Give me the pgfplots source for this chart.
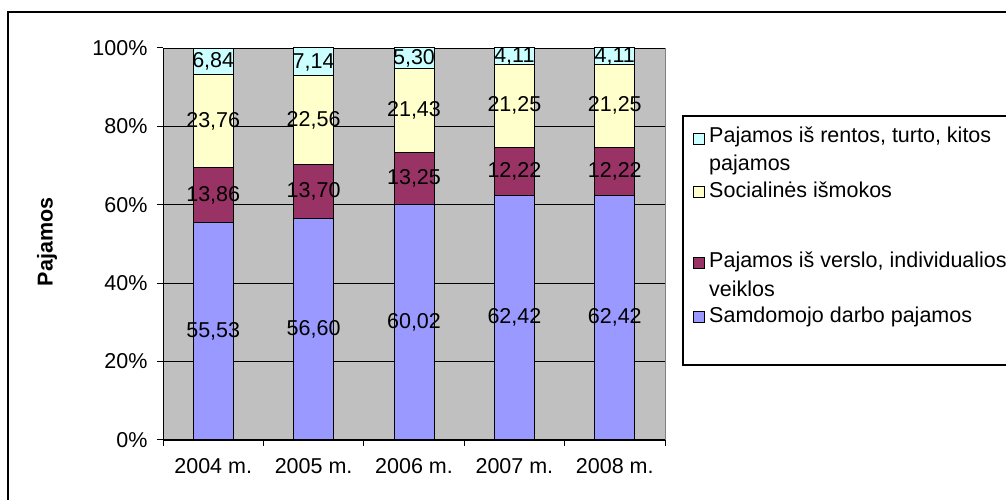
\documentclass[border=0pt]{standalone}
\usepackage{fontspec}
\setmainfont{Liberation Sans}
\usepackage{pgfplots}
\pgfplotsset{compat=1.18}
\usepackage{pgfplotstable}

\definecolor{cWage}{HTML}{9999FF}
\definecolor{cBiz}{HTML}{993366}
\definecolor{cSoc}{HTML}{FFFFCC}
\definecolor{cRent}{HTML}{CCFFFF}
\definecolor{cPlot}{HTML}{C0C0C0}

% income shares by year, %
\pgfplotstableread{
x wage biz soc rent
0 55.53 13.86 23.76 6.84
1 56.60 13.70 22.56 7.14
2 60.02 13.25 21.43 5.30
3 62.42 12.22 21.25 4.11
4 62.42 12.22 21.25 4.11
}\shares

% data labels, set at the middle of each segment
\pgfplotstableread{
x y lab
0 27.77 55,53
0 62.46 13,86
0 81.27 23,76
0 96.57 6,84
1 28.30 56,60
1 63.45 13,70
1 81.58 22,56
1 96.43 7,14
2 30.01 60,02
2 66.65 13,25
2 83.99 21,43
2 97.35 5,30
3 31.21 62,42
3 68.53 12,22
3 85.27 21,25
3 97.95 4,11
4 31.21 62,42
4 68.53 12,22
4 85.27 21,25
4 97.95 4,11
}\labels

\newcommand{\chartfont}{\fontsize{21.5}{25}\selectfont}

\begin{document}
\begin{tikzpicture}[x=1pt,y=1pt,font=\chartfont]
\useasboundingbox (0,0) rectangle (1006,500);
\begin{scope}
  \clip (0,0) rectangle (1006,500);
  \draw[line width=1.5pt] (8,-10) -- (8,488) -- (1020,488);
  \draw[line width=1.3pt, fill=white] (683,135) rectangle (1020,384);
\end{scope}

\begin{axis}[
  at={(163pt,60pt)}, anchor=south west,
  scale only axis, width=502pt, height=392pt,
  ybar stacked, bar width=40pt,
  xmin=-0.5, xmax=4.5, ymin=0, ymax=100,
  xtick={0,...,4},
  xticklabels={2004 m.,2005 m.,2006 m.,2007 m.,2008 m.},
  minor xtick={-0.5,0.5,1.5,2.5,3.5,4.5},
  ytick={0,20,...,100},
  yticklabels={0\%,20\%,40\%,60\%,80\%,100\%},
  axis x line*=bottom, axis y line*=left,
  axis line style={black, line width=1pt, -},
  axis background/.style={fill=cPlot, draw=gray},
  ymajorgrids, grid style={black, line width=0.9pt},
  tick align=outside, major tick length=6pt, minor tick length=6pt,
  major x tick style={draw=none},
  tick style={black, line width=1pt},
  tick label style={font=\chartfont},
  xticklabel style={yshift=-9pt},
  yticklabel style={xshift=-6pt},
]
\addplot[fill=cWage, draw=black, line width=1pt] table[x=x, y=wage]{\shares};
\addplot[fill=cBiz, draw=black, line width=1pt] table[x=x, y=biz]{\shares};
\addplot[fill=cSoc, draw=black, line width=1pt] table[x=x, y=soc]{\shares};
\addplot[fill=cRent, draw=black, line width=1pt] table[x=x, y=rent]{\shares};
\end{axis}

\begin{axis}[
  at={(163pt,60pt)}, anchor=south west,
  scale only axis, width=502pt, height=392pt,
  xmin=-0.5, xmax=4.5, ymin=0, ymax=100,
  hide axis, clip=false,
]
\addplot[only marks, mark=none, nodes near coords,
  point meta=explicit symbolic,
  every node near coord/.append style={anchor=center, inner sep=0pt,
    font=\chartfont}]
  table[x=x, y=y, meta=lab]{\labels};
\end{axis}

\node[rotate=90, font=\chartfont\bfseries] at (47,258) {Pajamos};

% legend
\draw[fill=cRent, line width=0.8pt] (693,356) rectangle (704,367);
\node[anchor=base west, inner sep=0pt] at (709,357) {Pajamos iš rentos, turto, kitos};
\node[anchor=base west, inner sep=0pt] at (709,329) {pajamos};
\draw[fill=cSoc, line width=0.8pt] (693,303) rectangle (704,314);
\node[anchor=base west, inner sep=0pt] at (709,302) {Socialinės išmokos};
\draw[fill=cBiz, line width=0.8pt] (693,232) rectangle (704,243);
\node[anchor=base west, inner sep=0pt] at (709,232) {Pajamos iš verslo, individualios};
\node[anchor=base west, inner sep=0pt] at (709,203) {veiklos};
\draw[fill=cWage, line width=0.8pt] (693,178) rectangle (704,189);
\node[anchor=base west, inner sep=0pt] at (709,177) {Samdomojo darbo pajamos};
\end{tikzpicture}
\end{document}
